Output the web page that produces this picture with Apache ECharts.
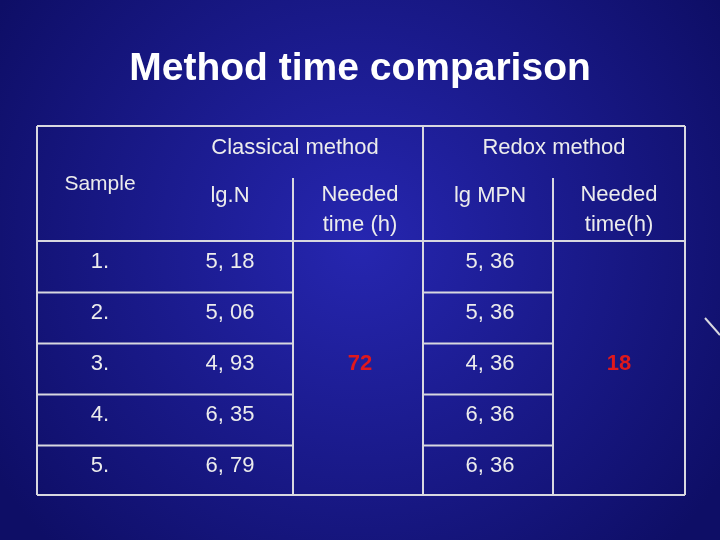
<!DOCTYPE html>
<html lang="en">
<head>
<meta charset="UTF-8">
<title>Method time comparison</title>
<script src="https://cdn.jsdelivr.net/npm/echarts@6/dist/echarts.min.js"></script>
</head>
<body style="margin:0;width:720px;height:540px">
<div id="main" style="width:720px;height:540px"></div>
<script>
// table data
var samples = ['1.', '2.', '3.', '4.', '5.'];
var lgN = ['5, 18', '5, 06', '4, 93', '6, 35', '6, 79'];
var lgMPN = ['5, 36', '5, 36', '4, 36', '6, 36', '6, 36'];
var classicalTime = '72';
var redoxTime = '18';
var groupHeaders = ['Classical method', 'Redox method'];
var subHeaders = ['lg.N', 'Needed\ntime (h)', 'lg MPN', 'Needed\ntime(h)'];

var chart = echarts.init(document.getElementById('main'));

var colX = [100, 230, 360, 490, 619];
var rowY = [262, 313, 364, 415, 466];
var white = '#ececec';
var font = '22px Arial, "Liberation Sans", sans-serif';

var g = [];
function txt(x, y, s, color, extra) {
    g.push({
        type: 'text', x: x, y: y,
        style: Object.assign({ text: s, fill: color || white, font: font, textAlign: 'center', textVerticalAlign: 'middle', lineHeight: 30 }, extra || {})
    });
}
function line(x1, y1, x2, y2) {
    g.push({ type: 'line', shape: { x1: x1, y1: y1, x2: x2, y2: y2 }, style: { stroke: '#d8d8e0', lineWidth: 2 } });
}

// title
txt(360, 69, 'Method time comparison', '#ffffff', { font: 'bold 39px Arial, "Liberation Sans", sans-serif' });

// borders
line(37, 126, 685, 126);
line(37, 495, 685, 495);
line(37, 126, 37, 495);
line(685, 126, 685, 495);
line(37, 241, 685, 241);
line(423, 126, 423, 495);
line(293, 178, 293, 495);
line(553, 178, 553, 495);
for (var i = 0; i < rowY.length - 1; i++) {
    var y = (rowY[i] + rowY[i + 1]) / 2 + 5;
    line(37, y, 293, y);
    line(423, y, 553, y);
}
line(705, 318, 720, 335);

// headers
txt(295, 148, groupHeaders[0]);
txt(554, 148, groupHeaders[1]);
txt(100, 184, 'Sample', white, { font: '21px Arial, "Liberation Sans", sans-serif' });
txt(230, 196, subHeaders[0]);
txt(360, 210, subHeaders[1]);
txt(490, 196, subHeaders[2]);
txt(619, 210, subHeaders[3]);

// rows
samples.forEach(function (s, i) {
    txt(colX[0], rowY[i], s);
    txt(colX[1], rowY[i], lgN[i]);
    txt(colX[3], rowY[i], lgMPN[i]);
});
txt(colX[2], rowY[2], classicalTime, '#e0181c', { font: 'bold 22px Arial, "Liberation Sans", sans-serif' });
txt(colX[4], rowY[2], redoxTime, '#e0181c', { font: 'bold 22px Arial, "Liberation Sans", sans-serif' });

chart.setOption({
    backgroundColor: {
        type: 'radial', x: 0.5, y: 0.45, r: 0.8,
        colorStops: [{ offset: 0, color: '#2626b0' }, { offset: 1, color: '#0e0e66' }]
    },
    graphic: g
});
</script>
</body>
</html>
